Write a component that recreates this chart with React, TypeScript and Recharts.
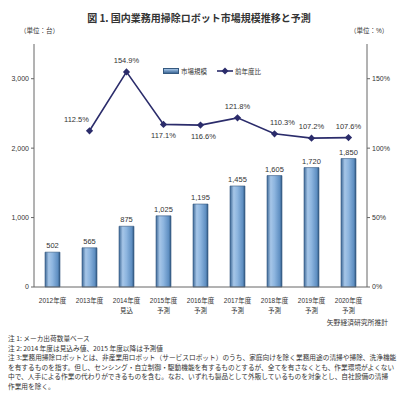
import { ComposedChart, Bar, Line, XAxis, YAxis, LabelList } from 'recharts';

const years = ['2012年度', '2013年度', '2014年度', '2015年度', '2016年度', '2017年度', '2018年度', '2019年度', '2020年度'];
const phases = ['', '', '見込', '予測', '予測', '予測', '予測', '予測', '予測'];
const units = [502, 565, 875, 1025, 1195, 1455, 1605, 1720, 1850];
const growth = [null, 112.5, 154.9, 117.1, 116.6, 121.8, 110.3, 107.2, 107.6];
const unitTicks = [0, 1000, 2000, 3000];
const growthTicks = [0, 50, 100, 150];
const boundaryTicks = [0, 1, 2, 3, 4, 5, 6, 7, 8, 9];

const notes = [
  '注 1: メーカ出荷数量ベース',
  '注 2: 2014 年度は見込み値、2015 年度以降は予測値',
  '注 3:業務用掃除ロボットとは、非産業用ロボット（サービスロボット）のうち、家庭向けを除く業務用途の清掃や掃除、洗浄機能',
  'を有するものを指す。但し、センシング・自立制御・駆動機能を有するものとするが、全てを有さなくとも、作業環境がよくない',
  '中で、人手による作業の代わりができるものを含む。なお、いずれも製品として外販しているものを対象とし、自社設備の清掃',
  '作業用を除く。',
];

const data = years.map((year, i) => ({ year, phase: phases[i], units: units[i], growth: growth[i] }));

const FONT = '"Liberation Sans", "Noto Sans CJK JP", sans-serif';
const TEXT = '#333';
const NAVY = '#2b2c6b';

// label placement for the growth line: below the point for 2015/2016, nudged sideways for 2013/2018
const growthLabelShift: Record<number, [number, number]> = {
  1: [-13, -9],
  3: [0, 14],
  4: [3, 14],
  6: [8, -9],
};

function XTick(props: any) {
  const { x, y, payload, index } = props;
  return (
    <text x={x} y={y} textAnchor="middle" fontSize={6.5} fill={TEXT} fontFamily={FONT}>
      <tspan x={x} dy={8}>{payload.value}</tspan>
      {phases[index] ? <tspan x={x} dy={9.5}>{phases[index]}</tspan> : null}
    </text>
  );
}

function Diamond(props: any) {
  const { cx, cy } = props;
  if (cx == null || cy == null || props.payload?.growth == null) return null;
  const r = 3.6;
  return <polygon points={`${cx},${cy - r} ${cx + r},${cy} ${cx},${cy + r} ${cx - r},${cy}`} fill={NAVY} />;
}

function GrowthLabel(props: any) {
  const { x, y, value, index } = props;
  if (value == null) return null;
  const [dx, dy] = growthLabelShift[index] ?? [0, -9];
  return (
    <text x={x + dx} y={y + dy} textAnchor="middle" fontSize={7.5} fill={TEXT} fontFamily={FONT}>
      {value.toFixed(1)}%
    </text>
  );
}

export default function App() {
  return (
    <div style={{ position: 'absolute', left: 0, top: 0, width: 398, height: 400, background: '#fff', fontFamily: FONT, color: TEXT }}>
      <div style={{ position: 'absolute', left: 0, top: 10, width: 398, textAlign: 'center', fontSize: 10, fontWeight: 'bold', fontFamily: '"Noto Sans CJK JP", sans-serif' }}>
        図 1. 国内業務用掃除ロボット市場規模推移と予測
      </div>
      <div style={{ position: 'absolute', left: 20, top: 25, fontSize: 6.5 }}>（単位：台）</div>
      <div style={{ position: 'absolute', left: 350, top: 25, fontSize: 6.5 }}>（単位：%）</div>

      <div style={{ position: 'absolute', left: 0, top: 0 }}>
        <ComposedChart width={398} height={320} data={data} margin={{ top: 44, right: 0, bottom: 0, left: 0 }} barCategoryGap={0}>
          <defs>
            <linearGradient id="barFill" x1="0" y1="0" x2="1" y2="0">
              <stop offset="0%" stopColor="#3d6896" />
              <stop offset="25%" stopColor="#a6c6e8" />
              <stop offset="50%" stopColor="#8db5df" />
              <stop offset="85%" stopColor="#5f8fc2" />
              <stop offset="100%" stopColor="#2f577f" />
            </linearGradient>
          </defs>
          <XAxis
            xAxisId="edges"
            type="number"
            domain={[0, 9]}
            ticks={boundaryTicks}
            allowDataOverflow
            height={0}
            tick={false}
            tickSize={3}
            axisLine={false}
            tickLine={{ stroke: '#666' }}
          />
          <XAxis
            dataKey="year"
            height={33}
            tick={<XTick />}
            tickLine={false}
            axisLine={{ stroke: '#666' }}
            interval={0}
          />
          <YAxis
            yAxisId="u"
            width={34}
            domain={[0, 3500]}
            ticks={unitTicks}
            tickSize={3}
            tickMargin={2}
            axisLine={{ stroke: '#666' }}
            tickLine={{ stroke: '#666' }}
            tick={{ fontSize: 7, fill: TEXT, fontFamily: FONT }}
            tickFormatter={(v: number) => v.toLocaleString('en-US')}
          />
          <YAxis
            yAxisId="g"
            orientation="right"
            width={31}
            domain={[0, 175]}
            ticks={growthTicks}
            tickSize={3}
            tickMargin={2}
            axisLine={{ stroke: '#666' }}
            tickLine={{ stroke: '#666' }}
            tick={{ fontSize: 7, fill: TEXT, fontFamily: FONT }}
            tickFormatter={(v: number) => `${v}%`}
          />
          <Bar yAxisId="u" dataKey="units" barSize={15} fill="url(#barFill)" stroke="#35597f" strokeWidth={0.6} isAnimationActive={false}>
            <LabelList
              dataKey="units"
              position="top"
              offset={4}
              fontSize={7.5}
              fill={TEXT}
              fontFamily={FONT}
              formatter={(v: any) => Number(v).toLocaleString('en-US')}
            />
          </Bar>
          <Line
            yAxisId="g"
            dataKey="growth"
            stroke={NAVY}
            strokeWidth={1.6}
            dot={<Diamond />}
            activeDot={false}
            isAnimationActive={false}
          >
            <LabelList dataKey="growth" content={<GrowthLabel />} />
          </Line>
        </ComposedChart>
      </div>

      <div style={{ position: 'absolute', left: 163, top: 66, display: 'flex', alignItems: 'center', fontSize: 6.5, whiteSpace: 'nowrap' }}>
        <span style={{ display: 'inline-block', width: 14, height: 4, background: 'linear-gradient(#a6c6e8, #3d6896)', border: '0.5px solid #35597f', marginRight: 2 }} />
        <span>市場規模</span>
        <svg width={16} height={8} style={{ marginLeft: 10, marginRight: 2 }}>
          <line x1={0} y1={4} x2={16} y2={4} stroke={NAVY} strokeWidth={1.6} />
          <polygon points="8,0.5 11.5,4 8,7.5 4.5,4" fill={NAVY} />
        </svg>
        <span>前年度比</span>
      </div>

      <div style={{ position: 'absolute', right: 10, top: 317, fontSize: 6.8, fontFamily: '"Noto Sans CJK JP", sans-serif' }}>矢野経済研究所推計</div>
      <div style={{ position: 'absolute', left: 8, top: 334, fontSize: 6.7, lineHeight: '9.5px', whiteSpace: 'nowrap', fontFamily: '"Noto Sans CJK JP", sans-serif' }}>
        {notes.map((n) => (
          <div key={n}>{n}</div>
        ))}
      </div>
    </div>
  );
}
